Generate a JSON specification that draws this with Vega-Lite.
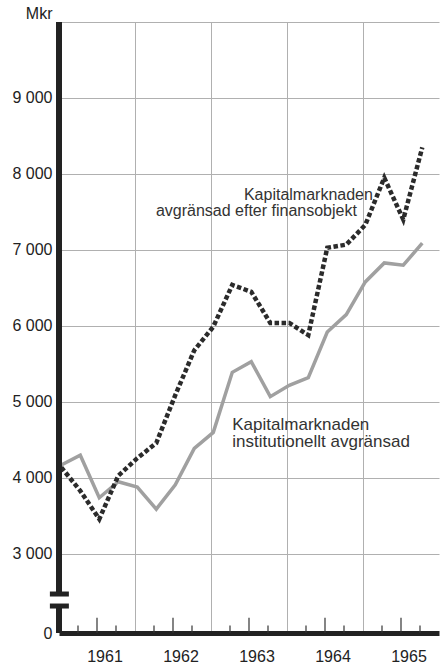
{
  "$schema": "https://vega.github.io/schema/vega-lite/v6.json",
  "width": 380,
  "height": 611,
  "autosize": {"type": "none"},
  "padding": {"left": 59, "top": 22, "right": 2, "bottom": 32},
  "background": "white",
  "config": {"view": {"stroke": null}, "font": "Liberation Sans"},
  "datasets": {
    "series": [
      {"t": 1961.03, "serie": "finans", "v": 4140},
      {"t": 1961.28, "serie": "finans", "v": 3830},
      {"t": 1961.53, "serie": "finans", "v": 3460},
      {"t": 1961.78, "serie": "finans", "v": 4030},
      {"t": 1962.03, "serie": "finans", "v": 4260},
      {"t": 1962.28, "serie": "finans", "v": 4460},
      {"t": 1962.53, "serie": "finans", "v": 5090},
      {"t": 1962.78, "serie": "finans", "v": 5680},
      {"t": 1963.03, "serie": "finans", "v": 5990},
      {"t": 1963.28, "serie": "finans", "v": 6540},
      {"t": 1963.53, "serie": "finans", "v": 6450},
      {"t": 1963.78, "serie": "finans", "v": 6040},
      {"t": 1964.03, "serie": "finans", "v": 6040},
      {"t": 1964.28, "serie": "finans", "v": 5880},
      {"t": 1964.53, "serie": "finans", "v": 7030},
      {"t": 1964.78, "serie": "finans", "v": 7070},
      {"t": 1965.03, "serie": "finans", "v": 7330},
      {"t": 1965.28, "serie": "finans", "v": 7950},
      {"t": 1965.53, "serie": "finans", "v": 7400},
      {"t": 1965.78, "serie": "finans", "v": 8350},
      {"t": 1961.03, "serie": "inst", "v": 4170},
      {"t": 1961.28, "serie": "inst", "v": 4300},
      {"t": 1961.53, "serie": "inst", "v": 3740},
      {"t": 1961.78, "serie": "inst", "v": 3950},
      {"t": 1962.03, "serie": "inst", "v": 3880},
      {"t": 1962.28, "serie": "inst", "v": 3590},
      {"t": 1962.53, "serie": "inst", "v": 3910},
      {"t": 1962.78, "serie": "inst", "v": 4390},
      {"t": 1963.03, "serie": "inst", "v": 4600},
      {"t": 1963.28, "serie": "inst", "v": 5390},
      {"t": 1963.53, "serie": "inst", "v": 5530},
      {"t": 1963.78, "serie": "inst", "v": 5070},
      {"t": 1964.03, "serie": "inst", "v": 5220},
      {"t": 1964.28, "serie": "inst", "v": 5320},
      {"t": 1964.53, "serie": "inst", "v": 5920},
      {"t": 1964.78, "serie": "inst", "v": 6150},
      {"t": 1965.03, "serie": "inst", "v": 6580},
      {"t": 1965.28, "serie": "inst", "v": 6830},
      {"t": 1965.53, "serie": "inst", "v": 6800},
      {"t": 1965.78, "serie": "inst", "v": 7090}
    ],
    "notes": [
      {"t": 1965.13, "v": 7730, "text": "Kapitalmarknaden", "group": "finans"},
      {"t": 1964.92, "v": 7510, "text": "avgränsad efter finansobjekt", "group": "finans"},
      {"t": 1963.28, "v": 4700, "text": "Kapitalmarknaden", "group": "inst"},
      {"t": 1963.28, "v": 4470, "text": "institutionellt avgränsad", "group": "inst"}
    ],
    "years": [
      {"t": 1961.5, "label": "1961"},
      {"t": 1962.5, "label": "1962"},
      {"t": 1963.5, "label": "1963"},
      {"t": 1964.5, "label": "1964"},
      {"t": 1965.5, "label": "1965"}
    ],
    "quarters": [
      {"t": 1961.25}, {"t": 1961.75}, {"t": 1962.25}, {"t": 1962.75},
      {"t": 1963.25}, {"t": 1963.75}, {"t": 1964.25}, {"t": 1964.75},
      {"t": 1965.25}, {"t": 1965.75}
    ]
  },
  "layer": [
    {
      "data": {"name": "series"},
      "transform": [{"filter": "datum.serie === 'inst'"}],
      "mark": {"type": "line", "color": "#a0a0a0", "strokeWidth": 3.5},
      "encoding": {
        "x": {
          "field": "t", "type": "quantitative",
          "scale": {"domain": [1961, 1966], "nice": false, "zero": false},
          "axis": {
            "title": null,
            "values": [1962, 1963, 1964, 1965],
            "domainColor": "#222",
            "domainWidth": 5,
            "ticks": false,
            "labels": false,
            "grid": true,
            "gridColor": "#b0b0b0",
            "gridWidth": 1
          }
        },
        "y": {
          "field": "v", "type": "quantitative",
          "scale": {"domain": [1960, 10000], "nice": false, "zero": false},
          "axis": {
            "values": [1960, 3000, 4000, 5000, 6000, 7000, 8000, 9000, 10000],
            "domain": false,
            "ticks": false,
            "labelExpr": "datum.value < 2000 ? '0' : datum.value > 9500 ? '' : replace(format(datum.value, ',d'), ',', ' ')",
            "labelPadding": 7,
            "labelFontSize": 16,
            "labelColor": "#222",
            "grid": true,
            "gridColor": "#b0b0b0",
            "gridWidth": 1,
            "gridOpacity": {"condition": {"test": "datum.value < 2000", "value": 0}, "value": 1},
            "title": "Mkr",
            "titleAngle": 0,
            "titleAlign": "right",
            "titleBaseline": "middle",
            "titleX": -7,
            "titleY": -9,
            "titleFontSize": 16,
            "titleFontWeight": "normal",
            "titleColor": "#222"
          }
        }
      }
    },
    {
      "data": {"name": "series"},
      "transform": [{"filter": "datum.serie === 'finans'"}],
      "mark": {"type": "line", "color": "#2b2b2b", "strokeWidth": 4.5, "strokeDash": [4.5, 2.5], "strokeCap": "butt"},
      "encoding": {
        "x": {"field": "t", "type": "quantitative"},
        "y": {"field": "v", "type": "quantitative"}
      }
    },
    {
      "data": {"name": "quarters"},
      "mark": {"type": "rule", "color": "#333", "strokeWidth": 1.2},
      "encoding": {
        "x": {"field": "t", "type": "quantitative"},
        "y": {"datum": 1960, "type": "quantitative"},
        "y2": {"datum": 2060}
      }
    },
    {
      "data": {"name": "years"},
      "mark": {"type": "rule", "color": "#333", "strokeWidth": 1.2},
      "encoding": {
        "x": {"field": "t", "type": "quantitative"},
        "y": {"datum": 1960, "type": "quantitative"},
        "y2": {"datum": 2160}
      }
    },
    {
      "data": {"name": "years"},
      "mark": {"type": "text", "align": "center", "baseline": "middle", "fontSize": 16, "color": "#222", "dx": 8, "dy": 24},
      "encoding": {
        "x": {"field": "t", "type": "quantitative"},
        "y": {"datum": 1960, "type": "quantitative"},
        "text": {"field": "label"}
      }
    },
    {
      "data": {"name": "notes"},
      "transform": [{"filter": "datum.group === 'finans'"}],
      "mark": {"type": "text", "align": "right", "baseline": "middle", "fontSize": 16, "color": "#333"},
      "encoding": {
        "x": {"field": "t", "type": "quantitative"},
        "y": {"field": "v", "type": "quantitative"},
        "text": {"field": "text"}
      }
    },
    {
      "data": {"name": "notes"},
      "transform": [{"filter": "datum.group === 'inst'"}],
      "mark": {"type": "text", "align": "left", "baseline": "middle", "fontSize": 17, "color": "#333"},
      "encoding": {
        "x": {"field": "t", "type": "quantitative"},
        "y": {"field": "v", "type": "quantitative"},
        "text": {"field": "text"}
      }
    },
    {
      "data": {"values": [{}]},
      "mark": {"type": "rule", "color": "#222", "strokeWidth": 6},
      "encoding": {
        "x": {"datum": 1961, "type": "quantitative"},
        "y": {"datum": 10000, "type": "quantitative"},
        "y2": {"datum": 2473}
      }
    },
    {
      "data": {"values": [{}]},
      "mark": {"type": "rule", "color": "#222", "strokeWidth": 6},
      "encoding": {
        "x": {"datum": 1961, "type": "quantitative"},
        "y": {"datum": 2315, "type": "quantitative"},
        "y2": {"datum": 1960}
      }
    },
    {
      "data": {"values": [{}]},
      "mark": {"type": "rule", "color": "#222", "strokeWidth": 5},
      "encoding": {
        "x": {"datum": 1960.88, "type": "quantitative"},
        "x2": {"datum": 1961.13},
        "y": {"datum": 2473, "type": "quantitative"}
      }
    },
    {
      "data": {"values": [{}]},
      "mark": {"type": "rule", "color": "#222", "strokeWidth": 5},
      "encoding": {
        "x": {"datum": 1960.88, "type": "quantitative"},
        "x2": {"datum": 1961.13},
        "y": {"datum": 2315, "type": "quantitative"}
      }
    }
  ]
}
